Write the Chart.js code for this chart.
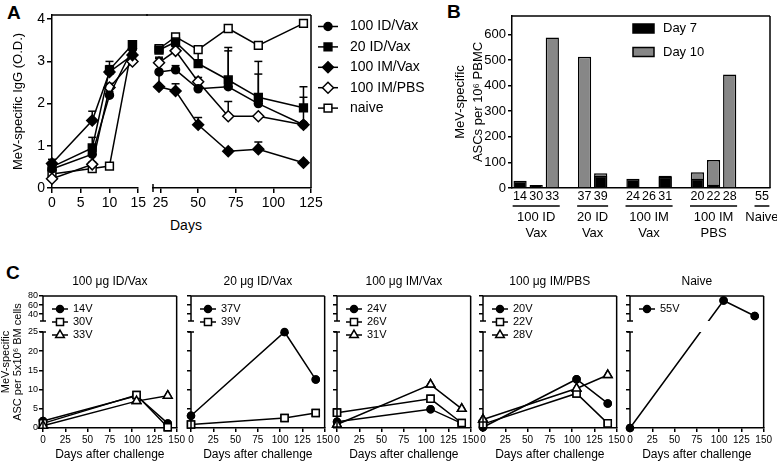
<!DOCTYPE html>
<html>
<head>
<meta charset="utf-8">
<title>MeV-specific IgG and ASC responses</title>
<script src="https://cdn.jsdelivr.net/npm/chart.js"></script>
<style>
  html, body { margin: 0; padding: 0; background: #fff; }
  body { position: relative; width: 777px; height: 462px; overflow: hidden;
         font-family: "Liberation Sans", Arial, Helvetica, sans-serif; color: #000; }
  canvas { position: absolute; }
  .panel-letter { position: absolute; font-weight: bold; font-size: 19px; line-height: 1; }
  .axis-note { position: absolute; font-size: 14px; line-height: 1; }
</style>
</head>
<body>
<div class="panel-letter" style="left:7px;top:3px">A</div>
<div class="panel-letter" style="left:447px;top:2px">B</div>
<div class="panel-letter" style="left:6px;top:263px">C</div>
<div class="axis-note" style="left:170px;top:218px">Days</div>

<canvas id="chartA1" width="148" height="232" style="left:0;top:0"></canvas>
<canvas id="chartA2" width="304" height="232" style="left:146px;top:0"></canvas>
<canvas id="chartB" width="331" height="250" style="left:446px;top:0"></canvas>

<script>
// ---------- Panel A: MeV-specific IgG (O.D.) ----------
const daysEarly = [0, 7, 10, 14];
const daysLate = [24, 35, 50, 70, 90, 120];
const ticksEarly = [0, 5, 10, 15];
const ticksLate = [25, 50, 75, 100, 125];
const ticksIgG = [0, 1, 2, 3, 4];

const groupsA = ['100 ID/Vax', '20 ID/Vax', '100 IM/Vax', '100 IM/PBS', 'naive'];
const id100Early = [0.45, 0.8, 2.2, 3.3];
const id100Late = [2.75, 2.8, 2.35, 2.4, 2.0, 1.5];
const id20Early = [0.5, 0.95, 2.8, 3.4];
const id20Late = [3.27, 3.46, 2.95, 2.56, 2.15, 1.9];
const im100Early = [0.58, 1.6, 2.75, 3.15];
const im100Late = [2.4, 2.3, 1.5, 0.87, 0.92, 0.6];
const pbsEarly = [0.22, 0.56, 2.38, 3.0];
const pbsLate = [2.97, 3.25, 2.52, 1.7, 1.7, 1.5];
const naiveEarly = [0.33, 0.46, 0.52, 3.4];
const naiveLate = [3.3, 3.58, 3.28, 3.78, 3.38, 3.9];

// upward error bars
const id100ErrEarly = [0.12, 0.1, 0.08, 0.05];
const id100ErrLate = [0.35, 0.1, 0.08, 0.85, 0.7, 0.65];
const id20ErrEarly = [0.12, 0.25, 0.2, 0.05];
const id20ErrLate = [0.1, 0.1, 0.4, 0.77, 0.85, 0.5];
const im100ErrEarly = [0.1, 0.22, 0.15, 0.05];
const im100ErrLate = [0.55, 0.17, 0.17, 0.05, 0.17, 0.05];
const pbsErrEarly = [0.05, 0.05, 0.1, 0.05];
const pbsErrLate = [0.1, 0.1, 0.1, 0.35, 0, 0];
const naiveErrEarly = [0, 0, 0, 0];
const naiveErrLate = [0, 0, 0, 0, 0, 0];

// ---------- Panel B: ASCs per 10^6 PBMC ----------
const bLabels = ['14', '30', '33', '', '37', '39', '', '24', '26', '31', '', '20', '22', '28', '', '55'];
const ascDay7 = [28, 12, 0, null, 0, 48, null, 36, 4, 44, null, 36, 13, 0, null, 0];
const ascDay10 = [0, 0, 588, null, 513, 58, null, 0, 0, 48, null, 62, 109, 443, null, 0];
const ticksAsc = [0, 100, 200, 300, 400, 500, 600];
const bGroupNames = [['100 ID', 'Vax'], ['20 ID', 'Vax'], ['100 IM', 'Vax'], ['100 IM', 'PBS'], ['Naive']];
const bGroupFirst = [0, 4, 7, 11, 15];
const bGroupLast = [2, 5, 9, 13, 15];

// ---------- Panel C: ASC per 5x10^6 BM cells ----------
const cDays = [0, 105, 140];
const ticksDaysC = [0, 25, 50, 75, 100, 125, 150];
const ticksBM = [0, 5, 10, 15, 20, 25, 40, 60, 80];
const cTitles = ['100 μg ID/Vax', '20 μg ID/Vax', '100 μg IM/Vax', '100 μg IM/PBS', 'Naive'];
const bm14V = [1.8, 8.4, 1.2];
const bm30V = [1.2, 8.6, 0.2];
const bm33V = [0.6, 7.0, 8.4];
const bm37V = [3.2, 25, 12.6];
const bm39V = [0.9, 2.6, 3.9];
const bm24V = [1.6, 4.9, 1.2];
const bm26V = [4.0, 7.6, 1.3];
const bm31V = [0.9, 11.3, 5.0];
const bm20V = [0.2, 12.7, 6.4];
const bm22V = [1.0, 9.0, 1.2];
const bm28V = [2.2, 10.3, 13.8];
const bm55V = [0, 70, 36];
const cSeries = [
  [['14V', bm14V], ['30V', bm30V], ['33V', bm33V]],
  [['37V', bm37V], ['39V', bm39V]],
  [['24V', bm24V], ['26V', bm26V], ['31V', bm31V]],
  [['20V', bm20V], ['22V', bm22V], ['28V', bm28V]],
  [['55V', bm55V]]
];

// ---------- shared setup ----------
const FONT = '"Liberation Sans", Arial, Helvetica, sans-serif';
Chart.defaults.font.family = FONT;
Chart.defaults.color = '#000';
Chart.defaults.animation = false;
Chart.defaults.plugins.legend.display = false;
Chart.defaults.plugins.tooltip.enabled = false;

const pts = (xs, ys) => xs.map((x, i) => ({ x: x, y: ys[i] }));
const fixTicks = vals => scale => { scale.ticks = vals.map(v => ({ value: v })); };

function axis(fontSize, tickLen) {
  return {
    grid: { display: true, drawOnChartArea: false, drawTicks: true, tickLength: tickLen, color: '#000', lineWidth: 1.5 },
    border: { display: true, color: '#000', width: 1.5 },
    ticks: { font: { size: fontSize }, color: '#000', padding: 2, autoSkip: false, maxRotation: 0 }
  };
}

function line(ctx, x0, y0, x1, y1) {
  ctx.beginPath(); ctx.moveTo(x0, y0); ctx.lineTo(x1, y1); ctx.stroke();
}

function marker(ctx, ds, x, y) {
  ctx.fillStyle = ds.pointBackgroundColor;
  ctx.strokeStyle = '#000';
  ctx.lineWidth = ds.pointBorderWidth;
  Chart.helpers.drawPoint(ctx, { pointStyle: ds.pointStyle, radius: ds.pointRadius, rotation: 0, borderWidth: ds.pointBorderWidth }, x, y);
}

// legend drawn next to / inside the plot
const sideLegend = {
  id: 'sideLegend',
  afterDraw(chart, args, o) {
    if (o.y === undefined) return;
    const ctx = chart.ctx, a = chart.chartArea;
    const x0 = (o.anchor === 'right' ? a.right : a.left) + o.dx;
    ctx.save();
    ctx.font = o.size + 'px ' + FONT;
    ctx.textBaseline = 'middle';
    chart.data.datasets.forEach((ds, i) => {
      const y = o.y + i * o.dy;
      ctx.strokeStyle = '#000'; ctx.lineWidth = 1.5;
      line(ctx, x0, y, x0 + o.len, y);
      marker(ctx, ds, x0 + o.len / 2, y);
      ctx.fillStyle = '#000';
      ctx.fillText(ds.label, x0 + o.len + o.gap, y);
    });
    ctx.restore();
  }
};

// upward SD bars with caps
const errorBars = {
  id: 'errorBars',
  beforeDatasetsDraw(chart) {
    const ctx = chart.ctx, ys = chart.scales.y;
    ctx.save();
    ctx.strokeStyle = '#000'; ctx.lineWidth = 1.5;
    chart.data.datasets.forEach((ds, i) => {
      if (!ds.errUp) return;
      chart.getDatasetMeta(i).data.forEach((pt, j) => {
        const e = ds.errUp[j];
        if (!e) return;
        const top = ys.getPixelForValue(ds.data[j].y + e);
        line(ctx, pt.x, pt.y, pt.x, top);
        line(ctx, pt.x - 4, top, pt.x + 4, top);
      });
    });
    ctx.restore();
  }
};

const markerA = ['circle', 'rect', 'rectRot', 'rectRot', 'rect'];
const fillA = ['#000', '#000', '#000', '#fff', '#fff'];
const radiusA = [4, 5.5, 5.5, 5.5, 5.5];

function setA(early) {
  const yEarly = [id100Early, id20Early, im100Early, pbsEarly, naiveEarly];
  const yLate = [id100Late, id20Late, im100Late, pbsLate, naiveLate];
  const eEarly = [id100ErrEarly, id20ErrEarly, im100ErrEarly, pbsErrEarly, naiveErrEarly];
  const eLate = [id100ErrLate, id20ErrLate, im100ErrLate, pbsErrLate, naiveErrLate];
  return groupsA.map((g, i) => ({
    label: g,
    data: early ? pts(daysEarly, yEarly[i]) : pts(daysLate, yLate[i]),
    errUp: early ? eEarly[i] : eLate[i],
    borderColor: '#000', borderWidth: 1.5,
    pointStyle: markerA[i], pointRadius: radiusA[i],
    pointBackgroundColor: fillA[i], pointBorderColor: '#000', pointBorderWidth: 1.5,
    clip: false
  }));
}

// ---------- Chart A, days 0-15 ----------
const a1x = axis(14, 5);
const a1y = axis(14, 5);
new Chart(document.getElementById('chartA1'), {
  type: 'line',
  data: { datasets: setA(true) },
  options: {
    responsive: false,
    layout: { padding: { top: 15, right: 9, left: 0, bottom: 0 } },
    scales: {
      x: Object.assign(a1x, { type: 'linear', min: 0, max: 15, afterBuildTicks: fixTicks(ticksEarly), afterFit: s => { s.height = 44; } }),
      y: Object.assign(a1y, {
        min: 0, max: 4.1, afterBuildTicks: fixTicks(ticksIgG), afterFit: s => { s.width = 52; },
        title: { display: true, text: 'MeV-specific IgG (O.D.)', font: { size: 13 }, padding: { top: 11, bottom: 0 } }
      })
    }
  },
  plugins: [errorBars, {
    id: 'frameA1',
    afterDraw(chart) {
      const ctx = chart.ctx, a = chart.chartArea;
      ctx.save(); ctx.strokeStyle = '#000'; ctx.lineWidth = 1.5;
      line(ctx, a.left, a.top, chart.width, a.top);
      ctx.restore();
    }
  }]
});

// ---------- Chart A, days 20-125 ----------
const a2x = axis(14, 5);
new Chart(document.getElementById('chartA2'), {
  type: 'line',
  data: { datasets: setA(false) },
  options: {
    responsive: false,
    layout: { padding: { top: 15, right: 139, left: 7, bottom: 0 } },
    scales: {
      x: Object.assign(a2x, { type: 'linear', min: 20, max: 125, afterBuildTicks: fixTicks(ticksLate), afterFit: s => { s.height = 44; } }),
      y: { display: false, min: 0, max: 4.1 }
    },
    plugins: { sideLegend: { anchor: 'right', dx: 7, y: 26.5, dy: 20.4, len: 20, gap: 12, size: 14 } }
  },
  plugins: [errorBars, sideLegend, {
    id: 'frameA2',
    afterDraw(chart) {
      const ctx = chart.ctx, a = chart.chartArea;
      ctx.save(); ctx.strokeStyle = '#000'; ctx.lineWidth = 1.5;
      line(ctx, 0, a.top, a.right, a.top);
      line(ctx, a.right, a.top, a.right, a.bottom);
      line(ctx, a.left, a.bottom - 4, a.left, a.bottom + 4);
      ctx.restore();
    }
  }]
});

// ---------- Chart B ----------
const bx = axis(12.5, 0);
bx.grid.display = false;
bx.ticks.padding = 1;
const by = axis(13, 4);
new Chart(document.getElementById('chartB'), {
  type: 'bar',
  data: {
    labels: bLabels,
    datasets: [
      { label: 'Day 7', data: ascDay7, backgroundColor: '#000', borderColor: '#000', borderWidth: 1.5,
        grouped: false, order: 0, barPercentage: 0.82, categoryPercentage: 1 },
      { label: 'Day 10', data: ascDay10, backgroundColor: '#878787', borderColor: '#000', borderWidth: 1.5,
        grouped: false, order: 1, barPercentage: 0.82, categoryPercentage: 1 }
    ]
  },
  options: {
    responsive: false,
    layout: { padding: { top: 16, right: 7, left: 0, bottom: 0 } },
    scales: {
      x: Object.assign(bx, { afterFit: s => { s.height = 62; } }),
      y: Object.assign(by, {
        min: 0, max: 672, afterBuildTicks: fixTicks(ticksAsc), afterFit: s => { s.width = 66; },
        title: { display: true, text: ['MeV-specific', 'ASCs per 10⁶ PBMC'], font: { size: 13, lineHeight: 1.4 }, padding: { top: 5, bottom: 0 } }
      })
    }
  },
  plugins: [{
    id: 'frameB',
    afterDraw(chart) {
      const ctx = chart.ctx, a = chart.chartArea, xs = chart.scales.x;
      ctx.save();
      ctx.strokeStyle = '#000'; ctx.lineWidth = 1.5;
      line(ctx, a.left, a.top, a.right, a.top);
      line(ctx, a.right, a.top, a.right, a.bottom);
      // groups under the bar numbers
      const half = xs.width / bLabels.length * 0.46;
      ctx.font = '13px ' + FONT;
      ctx.textAlign = 'center'; ctx.textBaseline = 'middle'; ctx.fillStyle = '#000';
      bGroupNames.forEach((name, g) => {
        const x0 = xs.getPixelForValue(bGroupFirst[g]) - half;
        const x1 = xs.getPixelForValue(bGroupLast[g]) + half;
        line(ctx, x0, a.bottom + 18, x1, a.bottom + 18);
        name.forEach((t, k) => ctx.fillText(t, (x0 + x1) / 2, a.bottom + 29 + k * 16));
      });
      // legend inside the plot
      ctx.textAlign = 'left';
      chart.data.datasets.forEach((ds, i) => {
        const y = 28.5 + i * 23.5;
        ctx.fillStyle = ds.backgroundColor;
        ctx.fillRect(187, y - 4.5, 21, 9);
        ctx.strokeRect(187, y - 4.5, 21, 9);
        ctx.fillStyle = '#000';
        ctx.fillText(ds.label, 217, y);
      });
      ctx.restore();
    }
  }]
});

// ---------- Chart C: broken y axis ----------
class BrokenLinearScale extends Chart.LinearScale {
  _brk() {
    const o = this.options;
    const h = this.bottom - this.top - o.gapPx;
    const low = h * o.lowerShare;
    return { b: o.breakAt, h: h, low: low, lowTop: this.bottom - low, upBottom: this.bottom - low - o.gapPx };
  }
  getPixelForValue(value) {
    const k = this._brk();
    if (value <= k.b) return this.bottom - (value - this.min) / (k.b - this.min) * k.low;
    return k.upBottom - (value - k.b) / (this.max - k.b) * (k.h - k.low);
  }
  getValueForPixel(pixel) {
    const k = this._brk();
    if (pixel >= k.lowTop) return this.min + (this.bottom - pixel) / k.low * (k.b - this.min);
    return k.b + (k.upBottom - pixel) / (k.h - k.low) * (this.max - k.b);
  }
}
BrokenLinearScale.id = 'brokenLinear';
BrokenLinearScale.defaults = Chart.LinearScale.defaults;
Chart.register(BrokenLinearScale);

const brokenFrame = {
  id: 'brokenFrame',
  beforeDatasetsDraw(chart) {
    const ctx = chart.ctx, k = chart.scales.y._brk();
    ctx.save();
    ctx.beginPath();
    ctx.rect(0, 0, chart.width, k.upBottom);
    ctx.rect(0, k.lowTop, chart.width, chart.height - k.lowTop);
    ctx.clip();
  },
  afterDatasetsDraw(chart) {
    const ctx = chart.ctx, a = chart.chartArea, k = chart.scales.y._brk();
    ctx.restore();
    const all = { left: 0, top: 0, right: chart.width, bottom: chart.height };
    chart.data.datasets.forEach((ds, i) => chart.getDatasetMeta(i).data.forEach(p => p.draw(ctx, all)));
    ctx.save();
    ctx.strokeStyle = '#000'; ctx.lineWidth = 1.5;
    line(ctx, a.left, a.bottom, a.left, k.lowTop);
    line(ctx, a.left, k.upBottom, a.left, a.top);
    line(ctx, a.left - 3, k.lowTop, a.left + 3, k.lowTop);
    line(ctx, a.left - 3, k.upBottom, a.left + 3, k.upBottom);
    line(ctx, a.left, a.top, a.right, a.top);
    line(ctx, a.right, a.top, a.right, a.bottom);
    ctx.restore();
  },
  afterDraw(chart, args, o) {
    const ctx = chart.ctx, a = chart.chartArea;
    ctx.save();
    ctx.font = '12px ' + FONT;
    ctx.textAlign = 'center'; ctx.textBaseline = 'middle'; ctx.fillStyle = '#000';
    ctx.fillText(o.title, (a.left + a.right) / 2, o.titleY);
    ctx.restore();
  }
};

const markerC = ['circle', 'rect', 'triangle'];
const fillC = ['#000', '#fff', '#fff'];
const radiusC = [3.5, 5, 5];
const axisLeftC = [43, 191, 337, 483, 630];

cSeries.forEach((series, p) => {
  const left = p === 0 ? 0 : axisLeftC[p] - 10;
  const width = axisLeftC[p] + 134 + 10 - left;
  const cv = document.createElement('canvas');
  cv.width = width; cv.height = 200;
  cv.style.left = left + 'px'; cv.style.top = '262px';
  document.body.appendChild(cv);

  const cx = axis(10, 4);
  cx.title = { display: true, text: 'Days after challenge', font: { size: 12 }, padding: { top: 1, bottom: 0 } };
  const cy = axis(9, 4);
  cy.border.display = false;
  cy.ticks.padding = 1;
  if (p > 0) cy.ticks.callback = () => '';
  if (p === 0) cy.title = { display: true, text: ['MeV-specific', 'ASC per 5x10⁶ BM cells'], font: { size: 11, lineHeight: 1.1 }, padding: { top: 0, bottom: 0 } };

  new Chart(cv, {
    type: 'line',
    data: {
      datasets: series.map((s, i) => ({
        label: s[0], data: pts(cDays, s[1]),
        borderColor: '#000', borderWidth: 1.5,
        pointStyle: markerC[i], pointRadius: radiusC[i],
        pointBackgroundColor: fillC[i], pointBorderColor: '#000', pointBorderWidth: 1.5,
        clip: false
      }))
    },
    options: {
      responsive: false,
      layout: { padding: { top: 34, right: 10, left: 0, bottom: 0 } },
      scales: {
        x: Object.assign(cx, { type: 'linear', min: 0, max: 150, afterBuildTicks: fixTicks(ticksDaysC), afterFit: s => { s.height = 34; } }),
        y: Object.assign(cy, {
          type: 'brokenLinear', min: 0, max: 80, breakAt: 25, gapPx: 11, lowerShare: 96 / 121,
          afterBuildTicks: fixTicks(ticksBM), afterFit: s => { s.width = axisLeftC[p] - left; }
        })
      },
      plugins: {
        sideLegend: { anchor: 'left', dx: 9, y: 47, dy: 13, len: 16, gap: 5, size: 11 },
        brokenFrame: { title: cTitles[p], titleY: 20 }
      }
    },
    plugins: [brokenFrame, sideLegend]
  });
});
</script>
</body>
</html>
